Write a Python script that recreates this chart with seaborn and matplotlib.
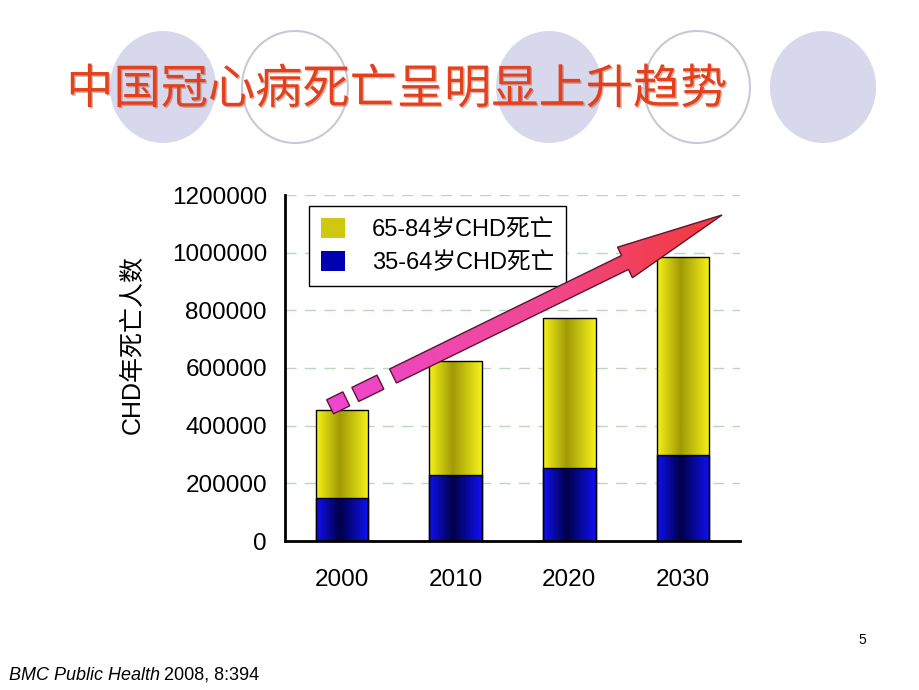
import numpy as np
import pandas as pd
import matplotlib
matplotlib.use("Agg")
import matplotlib.pyplot as plt
import seaborn as sns
from matplotlib.patches import Ellipse, Polygon, Patch
from matplotlib.colors import LinearSegmentedColormap
import matplotlib.patheffects as pe

# data
years = ["2000", "2010", "2020", "2030"]
deaths_35_64 = [150000, 228000, 252000, 300000]
deaths_65_84 = [306000, 396000, 520000, 686000]
yticks = [0, 200000, 400000, 600000, 800000, 1000000, 1200000]

title = "中国冠心病死亡呈明显上升趋势"
ylabel = "CHD年死亡人数"
label_old = "65-84岁CHD死亡"
label_young = "35-64岁CHD死亡"

sns.set_style("white")
plt.rcParams["font.family"] = ["Liberation Sans", "Noto Sans CJK SC", "DejaVu Sans"]
plt.rcParams["text.color"] = "black"
plt.rcParams["xtick.color"] = "black"
plt.rcParams["ytick.color"] = "black"
plt.rcParams["axes.labelcolor"] = "black"

df = pd.DataFrame({"year": years,
                   "young": deaths_35_64,
                   "total": np.array(deaths_35_64) + np.array(deaths_65_84)})

W, H = 920, 690
fig = plt.figure(figsize=(W / 100, H / 100), dpi=100)

# background: slide decoration in pixel coords
bg = fig.add_axes([0, 0, 1, 1], zorder=0)
bg.set_xlim(0, W)
bg.set_ylim(H, 0)
bg.axis("off")
for cx, filled in [(163, True), (295, False), (549, True), (697, False), (823, True)]:
    if filled:
        bg.add_patch(Ellipse((cx, 87), 106, 112, facecolor="#d8d8ec", edgecolor="none"))
    else:
        bg.add_patch(Ellipse((cx, 87), 106, 112, facecolor="white", edgecolor="#c8c8d8", lw=1.5))
bg.text(397, 90, title, ha="center", va="center", fontsize=34, color="#e4401c",
        family=["Noto Sans CJK SC"], fontweight="normal",
        path_effects=[pe.withSimplePatchShadow(offset=(1, -1), shadow_rgbFace="#902810", alpha=0.35)])
bg.text(862, 640, "5", ha="center", va="center", fontsize=10,
        family=["Liberation Sans Narrow", "Liberation Sans"])
t1 = bg.text(9, 675, "BMC Public Health", ha="left", va="center", fontsize=13, style="italic",
             family=["Liberation Sans Narrow", "Liberation Sans"])
fig.canvas.draw()
bb = t1.get_window_extent(fig.canvas.get_renderer())
bg.text(bb.x1 * 100 / fig.dpi + 4, 675, "2008, 8:394", ha="left", va="center", fontsize=13,
        family=["Liberation Sans Narrow", "Liberation Sans"])

# main chart
ax = fig.add_axes([285 / W, 1 - 541 / H, 455 / W, 346 / H], zorder=1)
ax.patch.set_alpha(0)
sns.barplot(data=df, x="year", y="total", color="#e8e400", width=0.46,
            edgecolor="black", linewidth=1, ax=ax)
n_old = len(ax.patches)
sns.barplot(data=df, x="year", y="young", color="#0000d0", width=0.46,
            edgecolor="black", linewidth=1, ax=ax)

yellow_cmap = LinearSegmentedColormap.from_list(
    "yel", [(0, "#f6f218"), (0.45, "#a09a06"), (1, "#f6f218")])
blue_cmap = LinearSegmentedColormap.from_list(
    "blu", [(0, "#1010f4"), (0.45, "#000048"), (1, "#1010f4")])
grad = np.linspace(0, 1, 200).reshape(1, -1)
for i, p in enumerate(ax.patches):
    cmap = yellow_cmap if i < n_old else blue_cmap
    x0, y0 = p.get_x(), p.get_y()
    im = ax.imshow(grad, extent=[x0, x0 + p.get_width(), y0, y0 + p.get_height()],
                   aspect="auto", cmap=cmap, zorder=0.9 + (0.05 if i >= n_old else 0),
                   interpolation="bicubic")
    im.set_clip_path(p)
    p.set_facecolor("none")

ax.set_xlim(-0.5, len(years) - 0.5)
ax.set_ylim(0, 1200000)
ax.set_yticks(yticks)
ax.set_yticklabels([str(v) for v in yticks])
ax.set_xlabel("")
ax.set_ylabel("")
ax.set_xticks(range(len(years)))
ax.set_xticklabels(years)
ax.set_xticks(np.arange(-0.5, len(years)), minor=True)
ax.tick_params(axis="x", which="major", length=0, pad=20, labelsize=17.5)
ax.tick_params(axis="x", which="minor", length=7, width=1.8, direction="out", color="black")
ax.tick_params(axis="y", length=0, pad=13, labelsize=17.5)
ax.set_axisbelow(True)
ax.yaxis.grid(True, color="#b8d8b8", linestyle=(0, (8, 6)), lw=1)
ax.xaxis.grid(False)
for s in ["top", "right"]:
    ax.spines[s].set_visible(False)
for s in ["left", "bottom"]:
    ax.spines[s].set_color("black")
    ax.spines[s].set_linewidth(2)

fig.text(133 / W, 1 - 344 / H, ylabel, rotation=90, ha="center", va="center", fontsize=18)

handles = [Patch(facecolor="#cfc810", edgecolor="none", label=label_old),
           Patch(facecolor="#0000b0", edgecolor="none", label=label_young)]
leg = ax.legend(handles=handles, loc="upper left", bbox_to_anchor=(0.053, 0.968),
                borderaxespad=0, fontsize=17, handlelength=1.0, handleheight=0.95,
                handletextpad=1.15, labelspacing=0.4, borderpad=0.5,
                frameon=True, fancybox=False, framealpha=1)
leg.get_frame().set_edgecolor("black")
leg.get_frame().set_linewidth(1)

# trend arrow overlay
ov = fig.add_axes([0, 0, 1, 1], zorder=2)
ov.set_xlim(0, W)
ov.set_ylim(H, 0)
ov.axis("off")
ov.patch.set_alpha(0)
S = np.array([393.0, 376.0])
T = np.array([722.0, 215.0])
L = np.linalg.norm(T - S)
u = (T - S) / L
n = np.array([-u[1], u[0]])
n = n if n[1] > 0 else -n
w, hw, head = 7.8, 17.0, 108.0
B = S + (L - head) * u
shaft = [S - w * n, B - w * n, B - hw * n, T, B + hw * n, B + w * n, S + w * n]


def seg(t0, t1):
    return [S + t0 * u - w * n, S + t1 * u - w * n, S + t1 * u + w * n, S + t0 * u + w * n]


arrow_cmap = LinearSegmentedColormap.from_list(
    "arr", [(0, "#ee46d2"), (0.55, "#f04890"), (0.78, "#f2405c"), (1, "#f23a3a")])
for pts in [shaft, seg(-42, -14), seg(-70, -52)]:
    poly = Polygon(np.array(pts), closed=True, facecolor="none", edgecolor="#5c1430", lw=1, zorder=3)
    ov.add_patch(poly)
    im = ov.imshow(np.linspace(0, 1, 300).reshape(1, -1), extent=[325, 725, 420, 205],
                   aspect="auto", cmap=arrow_cmap, zorder=2.5)
    im.set_clip_path(poly)
ov.set_xlim(0, W)
ov.set_ylim(H, 0)

fig.savefig("out.png", dpi=100)
